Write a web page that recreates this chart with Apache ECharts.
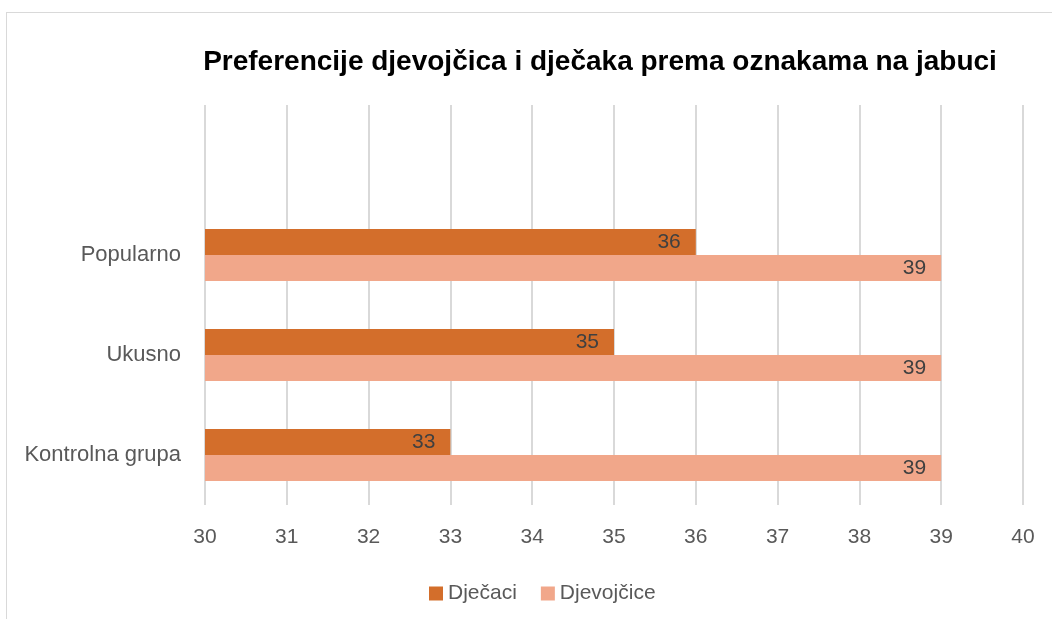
<!DOCTYPE html>
<html>
<head>
<meta charset="utf-8">
<script src="https://cdn.jsdelivr.net/npm/echarts@6/dist/echarts.min.js"></script>
<style>
html,body{margin:0;padding:0;background:#fff;}
#frame{position:absolute;left:6px;top:12px;width:1060px;height:620px;border:1px solid #d9d9d9;box-sizing:border-box;}
#chart{position:absolute;left:0;top:0;width:1052px;height:619px;}
</style>
</head>
<body>
<div id="frame"></div>
<div id="chart"></div>
<script>
const titleText = 'Preferencije djevojčica i dječaka prema oznakama na jabuci';
const categories = ['Kontrolna grupa', 'Ukusno', 'Popularno', ''];
const seriesNames = ['Dječaci', 'Djevojčice'];
const djecaci = [33, 35, 36, null];
const djevojcice = [39, 39, 39, null];
const xTicks = [30, 31, 32, 33, 34, 35, 36, 37, 38, 39, 40];

const font = 'Liberation Sans, Arial, sans-serif';
const chart = echarts.init(document.getElementById('chart'));
const labelCfg = {show: true, position: 'insideRight', color: '#404040', fontSize: 21, fontFamily: font, distance: 15};
chart.setOption({
  animation: false,
  title: {text: titleText, left: 595, top: 43, textAlign: 'center',
    textStyle: {fontSize: 28, fontWeight: 'bold', color: '#000', fontFamily: font}},
  legend: {data: seriesNames, top: 578, left: 424, itemWidth: 14, itemHeight: 14, itemGap: 24,
    icon: 'rect', textStyle: {fontSize: 21, color: '#595959', fontFamily: font}},
  grid: {left: 205, right: 29, top: 105, bottom: 114, containLabel: false},
  xAxis: {type: 'value', min: xTicks[0], max: xTicks[xTicks.length - 1], interval: 1,
    axisLine: {show: false}, axisTick: {show: false},
    axisLabel: {color: '#595959', fontSize: 21, fontFamily: font, margin: 22},
    splitLine: {lineStyle: {color: '#d9d9d9', width: 2}}},
  yAxis: {type: 'category', data: categories,
    axisLine: {show: false}, axisTick: {show: false},
    axisLabel: {color: '#595959', fontSize: 22, fontFamily: font, margin: 24},
    splitLine: {show: false}},
  series: [
    {name: 'Dječaci', type: 'bar', data: djecaci, barWidth: 26, barGap: '0%',
      itemStyle: {color: '#D36E2B'}, label: labelCfg},
    {name: 'Djevojčice', type: 'bar', data: djevojcice, barWidth: 26, barGap: '0%',
      itemStyle: {color: '#F1A78A'}, label: labelCfg}
  ]
});
</script>
</body>
</html>
